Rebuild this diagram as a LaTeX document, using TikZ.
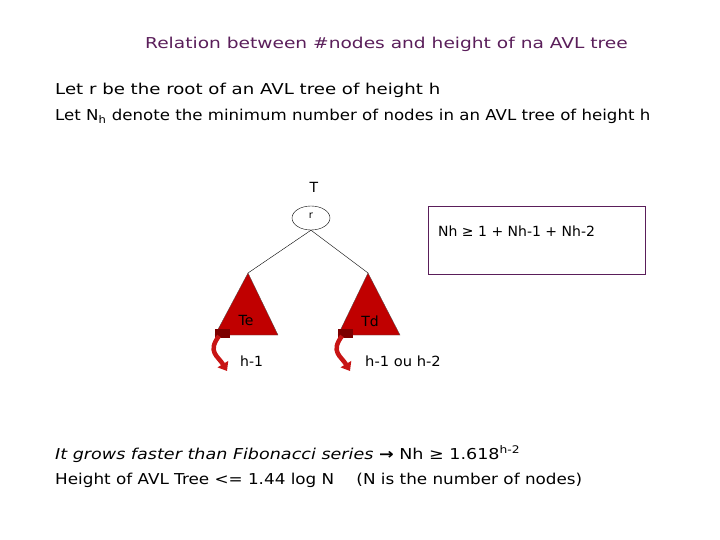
\documentclass[tikz,border=0pt]{standalone}
\usepackage{fontspec}
\usepackage{graphicx}
\setmainfont{DejaVu Sans}
\usetikzlibrary{shapes.geometric,arrows.meta}
\definecolor{ttl}{RGB}{90,30,90}
\definecolor{dred}{RGB}{192,0,0}
\definecolor{arr}{RGB}{200,20,20}
\newcommand{\sx}[2]{\scalebox{#1}[1]{#2}}
\tikzset{txt/.style={anchor=west,inner sep=0,font=\fontsize{15}{17}\selectfont},
small/.style={inner sep=0,font=\fontsize{14}{16}\selectfont},
tri/.style={fill=dred,draw=black!70,line width=0.3pt},
curl/.style={draw=arr,line width=4.5pt,-{Triangle[length=8pt,width=12pt]}}}
\begin{document}
\begin{tikzpicture}[x=1pt,y=-1pt]
\useasboundingbox (0,0) rectangle (720,540);
\node[txt,text=ttl] (title) at (145,44) {\sx{1.24}{Relation between \#nodes and height of na AVL tree}};
\node[txt] (l1) at (55,90) {\sx{1.21}{Let r be the root of an AVL tree of height h}};
\node[txt] (l2) at (55,116) {\sx{1.108}{Let N\textsubscript{h} denote the minimum number of nodes in an AVL tree of height h}};
\node[small] (T) at (314,187) {T};
\node[draw,ellipse,minimum width=38,minimum height=24,inner sep=0,font=\fontsize{10}{10}\selectfont] (r) at (311,218) {\raisebox{4pt}{r}};
\draw[tri] (248,273) coordinate (lt) -- (278,335) -- (215,335) -- cycle;
\draw[tri] (368,273) coordinate (rt) -- (400,335) -- (338,335) -- cycle;
\fill[black!35!dred] (215,329) rectangle (230,338);
\fill[black!35!dred] (338,329) rectangle (353,338);
\node[small] (Te) at (246,320) {Te};
\node[small] (Td) at (370,321) {Td};
\draw (r.south) -- (lt);
\draw (r.south) -- (rt);
\draw[curl] (219,336) .. controls (207,352) and (218,356) .. (227,371);
\draw[curl] (342,336) .. controls (330,352) and (341,356) .. (350,371);
\node[small,anchor=west] (h1) at (240,361) {h-1};
\node[small,anchor=west] (h2) at (365,361) {\sx{1.05}{h-1 ou h-2}};
\node[draw=ttl,minimum width=217,minimum height=68,inner sep=0] (box) at (536.5,240) {};
\node[small,anchor=west] (eq) at (438,231) {Nh ≥ 1 +  Nh-1 + Nh-2};
\node[txt] (f1) at (55,454) {\sx{1.17}{\textit{It grows faster than Fibonacci series} \textbf{→} Nh ≥ 1.618\textsuperscript{h-2}}};
\node[txt] (f2) at (55,480) {\sx{1.12}{Height of AVL Tree <= 1.44 log N \quad (N is the number of nodes)}};
\end{tikzpicture}
\end{document}
